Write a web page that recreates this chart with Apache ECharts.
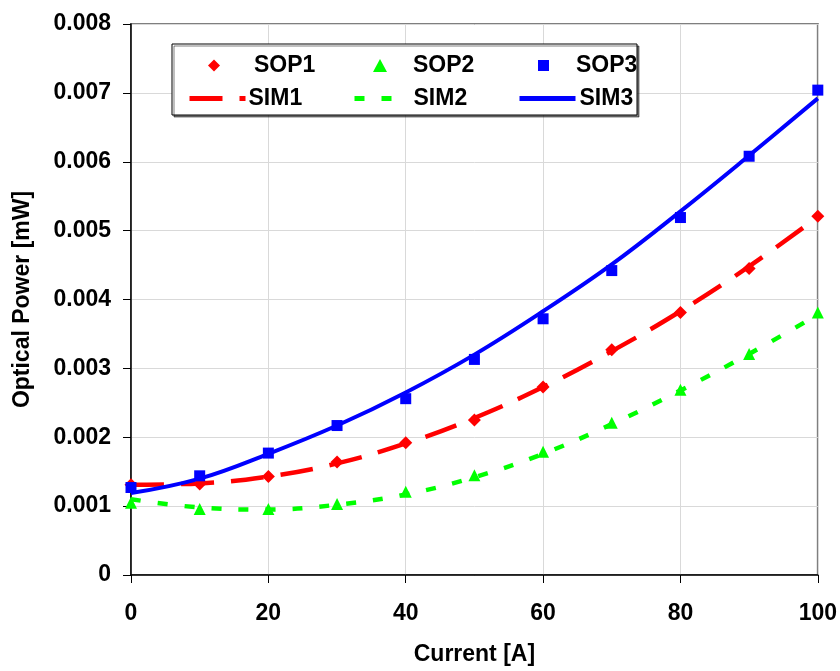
<!DOCTYPE html>
<html>
<head>
<meta charset="utf-8">
<script src="https://cdn.jsdelivr.net/npm/echarts@6/dist/echarts.min.js"></script>
<style>
  html, body { margin: 0; padding: 0; background: #fff; }
  #chart { width: 840px; height: 671px; }
</style>
</head>
<body>
<div id="chart"></div>
<script>
// current [A]
const current = [0, 10, 20, 30, 40, 50, 60, 70, 80, 90, 100]

// measured points
const sop1 = [0.00131, 0.00132, 0.00143, 0.00164, 0.00192, 0.00225, 0.00273, 0.00327, 0.00381, 0.00445, 0.00521]
const sop2 = [0.00105, 0.00096, 0.00096, 0.00103, 0.00121, 0.00145, 0.00179, 0.00221, 0.00269, 0.00321, 0.00381]
const sop3 = [0.00127, 0.00144, 0.00177, 0.00217, 0.00256, 0.00313, 0.00372, 0.00442, 0.00519, 0.00608, 0.00704]

// simulated curves
const sim1 = [0.00131, 0.00133, 0.00143, 0.00162, 0.00191, 0.00228, 0.00273, 0.00325, 0.00383, 0.00448, 0.0052]
const sim2 = [0.00110, 0.00098, 0.00095, 0.00102, 0.00117, 0.00142, 0.00176, 0.00219, 0.00268, 0.00321, 0.00378]
const sim3 = [0.00119, 0.0014, 0.00176, 0.00217, 0.00265, 0.0032, 0.00383, 0.00451, 0.00528, 0.00609, 0.00692]

const font = 'Liberation Sans, Arial, sans-serif'
const pairs = arr => arr.map((v, i) => [current[i], v])

const chart = echarts.init(document.getElementById('chart'))

// one legend per item so the columns line up like the original
function legendItem(name, left, top, w, h, padLeft, isLine) {
  const l = {
    data: [name],
    left: left,
    top: top,
    itemWidth: w,
    itemHeight: h,
    itemGap: 0,
    textStyle: { fontFamily: font, fontSize: 23, fontWeight: 'bold', color: '#000', padding: [0, 0, 0, padLeft] },
    selectedMode: false,
    padding: 0,
    z: 10
  }
  if (isLine) {
    l.itemStyle = { opacity: 0 }
    l.lineStyle = { width: 5 }
  }
  return l
}

chart.setOption({
  animation: false,
  grid: {
    left: 131, right: 20, top: 24, bottom: 95,
    show: true, borderColor: '#7f7f7f', borderWidth: 2
  },
  graphic: [{
    type: 'rect',
    shape: { x: 172, y: 44, width: 465, height: 71 },
    style: { fill: '#fff', stroke: '#000', lineWidth: 1, shadowColor: 'rgba(0,0,0,0.5)', shadowOffsetX: 2, shadowOffsetY: 2 },
    z: 5
  }],
  legend: [
    legendItem('SOP1', 208, 54, 12, 12, 29, false),
    legendItem('SOP2', 373, 54, 14, 13, 21, false),
    legendItem('SOP3', 538, 54, 11, 11, 22, false),
    legendItem('SIM1', 187, 87, 56, 14, -2, true),
    legendItem('SIM2', 352, 87, 54, 14, 0, true),
    legendItem('SIM3', 517, 87, 56, 14, -1, true)
  ],
  xAxis: {
    type: 'value',
    min: 0, max: 100, interval: 20,
    name: 'Current [A]',
    nameLocation: 'middle',
    nameGap: 68,
    nameTextStyle: { fontFamily: font, fontSize: 23, fontWeight: 'bold', color: '#000' },
    axisLine: { lineStyle: { color: '#000', width: 1.5 } },
    axisTick: { show: true, length: 8, lineStyle: { color: '#000' } },
    axisLabel: { fontFamily: font, fontSize: 23, fontWeight: 'bold', color: '#000', margin: 27 },
    splitLine: { show: true, lineStyle: { color: '#d9d9d9', width: 1 } }
  },
  yAxis: {
    type: 'value',
    min: 0, max: 0.008, interval: 0.001,
    name: 'Optical Power [mW]',
    nameLocation: 'middle',
    nameGap: 97,
    nameTextStyle: { fontFamily: font, fontSize: 23, fontWeight: 'bold', color: '#000' },
    axisLine: { show: true, lineStyle: { color: '#000', width: 1.5 } },
    axisTick: { show: true, length: 8, lineStyle: { color: '#000' } },
    axisLabel: {
      fontFamily: font, fontSize: 23, fontWeight: 'bold', color: '#000', margin: 20,
      formatter: v => v === 0 ? '0' : v.toFixed(3)
    },
    splitLine: { show: true, lineStyle: { color: '#d9d9d9', width: 1 } }
  },
  series: [
    {
      name: 'SIM1', type: 'line', data: pairs(sim1), smooth: 0.4, symbol: 'none',
      lineStyle: { color: '#ff0000', width: 4.5, type: [33, 17] }, itemStyle: { color: '#ff0000' }, z: 2
    },
    {
      name: 'SIM2', type: 'line', data: pairs(sim2), smooth: 0.4, symbol: 'none',
      lineStyle: { color: '#00ff00', width: 4.5, type: [10, 17] }, itemStyle: { color: '#00ff00' }, z: 2
    },
    {
      name: 'SIM3', type: 'line', data: pairs(sim3), smooth: 0.4, symbol: 'none',
      lineStyle: { color: '#0000ff', width: 4 }, itemStyle: { color: '#0000ff' }, z: 2
    },
    {
      name: 'SOP1', type: 'scatter', data: pairs(sop1), symbol: 'diamond', symbolSize: 13,
      itemStyle: { color: '#ff0000', opacity: 1 }, z: 3
    },
    {
      name: 'SOP2', type: 'scatter', data: pairs(sop2), symbol: 'triangle', symbolSize: 12,
      itemStyle: { color: '#00ff00', opacity: 1 }, z: 3
    },
    {
      name: 'SOP3', type: 'scatter', data: pairs(sop3), symbol: 'rect', symbolSize: 11,
      itemStyle: { color: '#0000ff', opacity: 1 }, z: 3
    }
  ]
})
</script>
</body>
</html>
